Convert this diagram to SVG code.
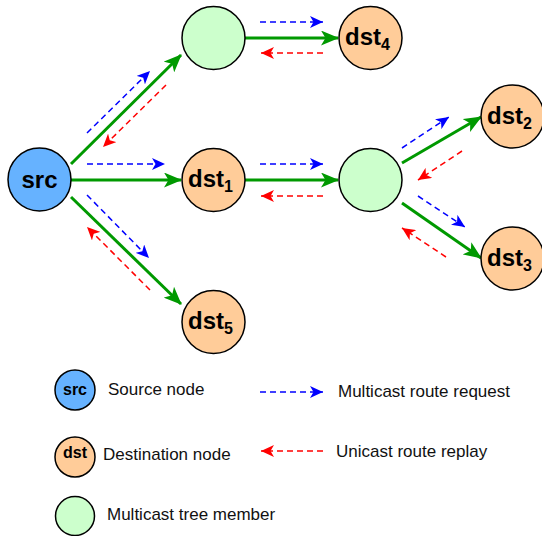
<svg xmlns="http://www.w3.org/2000/svg" width="542" height="536" viewBox="0 0 542 536">
<style>
  .node { stroke: #000; stroke-width: 1.5; }
  .src { fill: #66B2FF; }
  .dst { fill: #FFCC99; }
  .mem { fill: #CCFFCC; }
  .lbl { font-family: "Liberation Sans", Arial, sans-serif; font-weight: bold; font-size: 24px; fill: #000; }
  .sub { font-size: 16px; }
  .tree { stroke: #009900; stroke-width: 3; fill: none; marker-end: url(#ga); }
  .req { stroke: #0000FF; stroke-width: 1.5; stroke-dasharray: 6 4; fill: none; marker-end: url(#ba); }
  .rep { stroke: #FF0000; stroke-width: 1.5; stroke-dasharray: 6 4; fill: none; marker-end: url(#ra); }
  .leg { font-family: "Liberation Sans", Arial, sans-serif; font-size: 17px; fill: #111; }
</style>
<defs>
  <marker id="ga" markerUnits="userSpaceOnUse" viewBox="0 0 18 15" refX="17" refY="7.5" markerWidth="18" markerHeight="15" orient="auto">
    <path d="M0,0 L18,7.5 L0,15 L4.5,7.5 z" fill="#009900"/>
  </marker>
  <marker id="ba" markerUnits="userSpaceOnUse" viewBox="0 0 13 12" refX="13" refY="6" markerWidth="13" markerHeight="12" orient="auto">
    <path d="M0,0 L13,6 L0,12 L3.5,6 z" fill="#0000FF"/>
  </marker>
  <marker id="ra" markerUnits="userSpaceOnUse" viewBox="0 0 13 12" refX="13" refY="6" markerWidth="13" markerHeight="12" orient="auto">
    <path d="M0,0 L13,6 L0,12 L3.5,6 z" fill="#FF0000"/>
  </marker>
</defs>

<g id="connectors">
  <!-- tree edges -->
  <line class="tree" x1="71" y1="164" x2="181" y2="55"/>
  <line class="tree" x1="71" y1="180" x2="181" y2="180"/>
  <line class="tree" x1="71" y1="197" x2="181" y2="304"/>
  <line class="tree" x1="245" y1="38" x2="338" y2="38"/>
  <line class="tree" x1="245" y1="180" x2="338" y2="180"/>
  <line class="tree" x1="402" y1="163" x2="481" y2="117"/>
  <line class="tree" x1="402" y1="203" x2="481" y2="258"/>
  <!-- requests -->
  <line class="req" x1="87" y1="133" x2="150" y2="71"/>
  <line class="req" x1="87" y1="164" x2="165" y2="164"/>
  <line class="req" x1="87" y1="195" x2="149" y2="258"/>
  <line class="req" x1="260" y1="22" x2="323" y2="22"/>
  <line class="req" x1="260" y1="164" x2="323" y2="164"/>
  <line class="req" x1="402" y1="148" x2="449" y2="117"/>
  <line class="req" x1="418" y1="196" x2="465" y2="227"/>
  <!-- replies -->
  <line class="rep" x1="166" y1="85" x2="103" y2="147"/>
  <line class="rep" x1="150" y1="290" x2="87" y2="227"/>
  <line class="rep" x1="323" y1="53" x2="261" y2="53"/>
  <line class="rep" x1="323" y1="196" x2="261" y2="196"/>
  <line class="rep" x1="462" y1="151" x2="418" y2="180"/>
  <line class="rep" x1="446" y1="257" x2="402" y2="228"/>
</g>

<g id="src">
  <circle class="node src" cx="39.5" cy="179.5" r="31.5"/>
  <text class="lbl" x="39.5" y="188" text-anchor="middle">src</text>
</g>
<g id="member1">
  <circle class="node mem" cx="213.5" cy="38" r="31.5"/>
</g>
<g id="dst1">
  <circle class="node dst" cx="213.5" cy="180" r="31.5"/>
  <text class="lbl" x="188" y="187">dst<tspan class="sub" dy="5">1</tspan></text>
</g>
<g id="dst5">
  <circle class="node dst" cx="213.5" cy="322" r="31.5"/>
  <text class="lbl" x="188" y="329">dst<tspan class="sub" dy="5">5</tspan></text>
</g>
<g id="dst4">
  <circle class="node dst" cx="370.5" cy="38" r="31.5"/>
  <text class="lbl" x="345" y="45">dst<tspan class="sub" dy="5">4</tspan></text>
</g>
<g id="member2">
  <circle class="node mem" cx="370.5" cy="180" r="31.5"/>
</g>
<g id="dst2">
  <circle class="node dst" cx="512.5" cy="116.5" r="31.5"/>
  <text class="lbl" x="487" y="123.5">dst<tspan class="sub" dy="5">2</tspan></text>
</g>
<g id="dst3">
  <circle class="node dst" cx="512.5" cy="258.5" r="31.5"/>
  <text class="lbl" x="487" y="265.5">dst<tspan class="sub" dy="5">3</tspan></text>
</g>

<g id="legend">
  <g id="legend-src">
    <circle class="node src" cx="75" cy="390" r="20"/>
    <text class="lbl" x="75" y="395" text-anchor="middle" style="font-size:16px">src</text>
    <text class="leg" x="108" y="395">Source node</text>
  </g>
  <g id="legend-dst">
    <circle class="node dst" cx="75" cy="457" r="20"/>
    <text class="lbl" x="75" y="458" text-anchor="middle" style="font-size:16px">dst</text>
    <text class="leg" x="103" y="460">Destination node</text>
  </g>
  <g id="legend-mem">
    <circle class="node mem" cx="75" cy="516" r="19.5"/>
    <text class="leg" x="107" y="520">Multicast tree member</text>
  </g>
  <g id="legend-req">
    <line class="req" x1="260" y1="392" x2="323" y2="392"/>
    <text class="leg" x="338" y="397">Multicast route request</text>
  </g>
  <g id="legend-rep">
    <line class="rep" x1="323" y1="451" x2="261" y2="451"/>
    <text class="leg" x="336" y="457">Unicast route replay</text>
  </g>
</g>
</svg>
